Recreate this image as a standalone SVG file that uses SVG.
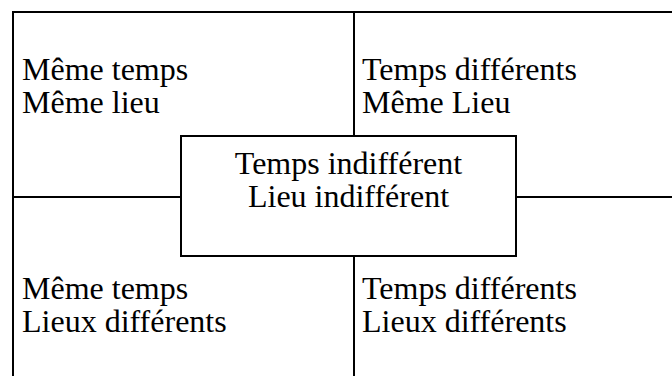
<svg xmlns="http://www.w3.org/2000/svg" width="672" height="376" viewBox="0 0 672 376">
<style>
.ln{stroke:#000;stroke-width:2;fill:none}
.t{font-family:"Liberation Serif","Times New Roman",serif;font-size:32px;fill:#000}
</style>
<rect width="672" height="376" fill="#fff"/>
<g id="connectors">
<path class="ln" d="M12,12H672M13,12V376M354,12V376M13,197H672"/>
</g>
<g id="q1"><text class="t" x="22" y="79.5">Même temps<tspan x="22" y="112.5">Même lieu</tspan></text></g>
<g id="q2"><text class="t" x="362" y="79.5">Temps différents<tspan x="362" y="112.5">Même Lieu</tspan></text></g>
<g id="q3"><text class="t" x="22" y="299">Même temps<tspan x="22" y="332">Lieux différents</tspan></text></g>
<g id="q4"><text class="t" x="362" y="299">Temps différents<tspan x="362" y="332">Lieux différents</tspan></text></g>
<g id="center">
<rect class="ln" x="181" y="136" width="335" height="120" style="fill:#fff"/>
<text class="t" x="348.5" y="173.5" text-anchor="middle">Temps indifférent<tspan x="348.5" y="206.5">Lieu indifférent</tspan></text>
</g>
</svg>
